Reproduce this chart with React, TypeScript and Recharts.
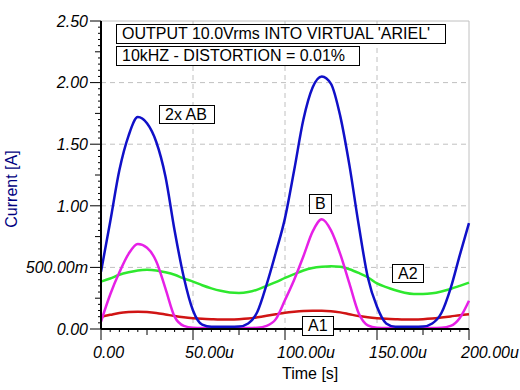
import {
  LineChart,
  Line,
  XAxis,
  YAxis,
  CartesianGrid,
  ReferenceLine,
} from 'recharts';

// time axis, in microseconds
const TIME_US = [
  0, 5, 10, 15, 20, 25, 30, 35, 40, 45, 50, 55, 60, 65, 70, 75, 80, 85, 90, 95, 100,
  105, 110, 115, 120, 125, 130, 135, 140, 145, 150, 155, 160, 165, 170, 175, 180, 185, 190, 195, 200,
];

// currents in amps
const AB_2X = [
  0.465, 0.87, 1.29, 1.57, 1.72, 1.67, 1.52, 1.24, 0.8, 0.42, 0.15, 0.035, 0.018, 0.018, 0.018, 0.02, 0.045, 0.14, 0.36, 0.62, 0.9,
  1.29, 1.7, 1.96, 2.05, 1.99, 1.73, 1.33, 0.85, 0.42, 0.18, 0.045, 0.018, 0.018, 0.018, 0.02, 0.045, 0.13, 0.33, 0.6, 0.86,
];
const B_CUR = [
  0.06, 0.28, 0.46, 0.61, 0.69, 0.66, 0.55, 0.33, 0.1, 0.025, 0.01, 0.008, 0.008, 0.008, 0.008, 0.008, 0.008, 0.01, 0.025, 0.08, 0.235,
  0.4, 0.59, 0.79, 0.89, 0.8, 0.61, 0.37, 0.13, 0.03, 0.01, 0.008, 0.008, 0.008, 0.008, 0.008, 0.008, 0.01, 0.025, 0.09, 0.23,
];
const A2_CUR = [
  0.385, 0.41, 0.44, 0.46, 0.475, 0.48, 0.475, 0.46, 0.44, 0.41, 0.385, 0.355, 0.33, 0.31, 0.297, 0.293, 0.3, 0.32, 0.35, 0.38, 0.415,
  0.445, 0.475, 0.495, 0.505, 0.51, 0.505, 0.485, 0.455, 0.42, 0.37, 0.34, 0.315, 0.295, 0.285, 0.284, 0.29, 0.305, 0.325, 0.35, 0.376,
];
const A1_CUR = [
  0.1, 0.115, 0.13, 0.137, 0.14, 0.137, 0.13, 0.118, 0.105, 0.095, 0.088, 0.083, 0.08, 0.078, 0.078, 0.08, 0.085, 0.095, 0.107, 0.12, 0.132,
  0.14, 0.146, 0.149, 0.149, 0.145, 0.135, 0.12, 0.105, 0.095, 0.088, 0.083, 0.08, 0.078, 0.078, 0.08, 0.085, 0.093, 0.102, 0.112, 0.12,
];

const X_MAJOR = [0, 50, 100, 150, 200];
const X_LABELS = ['0.00', '50.00u', '100.00u', '150.00u', '200.00u'];
const Y_MAJOR = [0, 0.5, 1, 1.5, 2, 2.5];
const Y_LABELS = ['0.00', '500.00m', '1.00', '1.50', '2.00', '2.50'];

const data = TIME_US.map((t, i) => ({
  t,
  ab: AB_2X[i],
  b: B_CUR[i],
  a2: A2_CUR[i],
  a1: A1_CUR[i],
}));

// minor ticks every tenth of a major division
const xTicks = Array.from({ length: 41 }, (_, i) => i * 5);
const yTicks = Array.from({ length: 51 }, (_, i) => Math.round(i * 5) / 100);

const FONT = '"Liberation Sans", Arial, sans-serif';

const XTick = (props: any) => {
  const { x, y, payload } = props;
  const k = Math.round(payload.value / 5);
  const len = k % 10 === 0 ? 11 : k % 5 === 0 ? 6 : 3;
  const mi = X_MAJOR.indexOf(payload.value);
  return (
    <g>
      <line x1={x} x2={x} y1={y} y2={y + len} stroke="#000" strokeWidth={1} />
      {mi >= 0 && (
        <text x={x - 8} y={y + 29} textAnchor="start" fontFamily={FONT} fontSize={16} fontStyle="italic" fill="#000">
          {X_LABELS[mi]}
        </text>
      )}
    </g>
  );
};

const YTick = (props: any) => {
  const { x, y, payload } = props;
  const k = Math.round(payload.value / 0.05);
  const len = k % 10 === 0 ? 11 : k % 5 === 0 ? 6 : 3;
  const mi = Y_MAJOR.findIndex((v) => Math.abs(v - payload.value) < 1e-6);
  return (
    <g>
      <line x1={x - len} x2={x} y1={y} y2={y} stroke="#000" strokeWidth={1} />
      {mi >= 0 && (
        <text x={x - 13} y={y} dy="0.36em" textAnchor="end" fontFamily={FONT} fontSize={16} fontStyle="italic" fill="#000">
          {Y_LABELS[mi]}
        </text>
      )}
    </g>
  );
};

const boxStyle = (left: number, top: number, width: number, height: number): React.CSSProperties => ({
  position: 'absolute',
  left,
  top,
  width,
  height,
  boxSizing: 'border-box',
  border: '1px solid #000',
  background: '#fff',
  fontFamily: FONT,
  fontSize: 16,
  lineHeight: `${height - 2}px`,
  paddingLeft: 5,
  whiteSpace: 'nowrap',
  color: '#000',
});

export default function App() {
  return (
    <div style={{ position: 'absolute', left: 0, top: 0, width: 520, height: 390, background: '#fff' }}>
      <LineChart width={520} height={390} data={data} margin={{ top: 21, right: 51, bottom: 31, left: 41 }}>
        <CartesianGrid
          stroke="#c0c0c0"
          strokeDasharray="5 4"
          horizontalValues={[0.5, 1, 1.5, 2]}
          verticalValues={[50, 100, 150]}
        />
        <ReferenceLine y={2.5} stroke="#c0c0c0" />
        <ReferenceLine x={200} stroke="#c0c0c0" />
        <XAxis
          type="number"
          dataKey="t"
          domain={[0, 200]}
          ticks={xTicks}
          interval={0}
          tickSize={0}
          tickMargin={0}
          tick={<XTick />}
          axisLine={{ stroke: '#000', strokeWidth: 2 }}
          height={30}
        />
        <YAxis
          type="number"
          domain={[0, 2.5]}
          ticks={yTicks}
          interval={0}
          tickSize={0}
          tickMargin={0}
          tick={<YTick />}
          axisLine={{ stroke: '#000', strokeWidth: 2 }}
          width={60}
        />
        <Line type="monotone" dataKey="a1" stroke="#d01414" strokeWidth={2.5} dot={false} isAnimationActive={false} />
        <Line type="monotone" dataKey="a2" stroke="#2ee82e" strokeWidth={2.5} dot={false} isAnimationActive={false} />
        <Line type="monotone" dataKey="b" stroke="#e620e6" strokeWidth={2.5} dot={false} isAnimationActive={false} />
        <Line type="monotone" dataKey="ab" stroke="#1010c8" strokeWidth={2.5} dot={false} isAnimationActive={false} />
      </LineChart>

      <div style={boxStyle(116, 24, 330, 20)}>OUTPUT 10.0Vrms INTO VIRTUAL 'ARIEL'</div>
      <div style={boxStyle(116, 46, 244, 20)}>10kHZ - DISTORTION = 0.01%</div>
      <div style={boxStyle(159, 105, 56, 19)}>2x AB</div>
      <div style={boxStyle(309, 194, 23, 20)}>B</div>
      <div style={boxStyle(392, 264, 32, 19)}>A2</div>
      <div style={boxStyle(302, 316, 32, 20)}>A1</div>

      <div style={{ position: 'absolute', left: 282, top: 365, fontFamily: FONT, fontSize: 16, color: '#000', whiteSpace: 'nowrap' }}>
        Time [s]
      </div>
      <div
        style={{
          position: 'absolute',
          left: 12,
          top: 189,
          transform: 'translate(-50%, -50%) rotate(-90deg)',
          fontFamily: FONT,
          fontSize: 16,
          color: '#000080',
          whiteSpace: 'nowrap',
        }}
      >
        Current [A]
      </div>
    </div>
  );
}
